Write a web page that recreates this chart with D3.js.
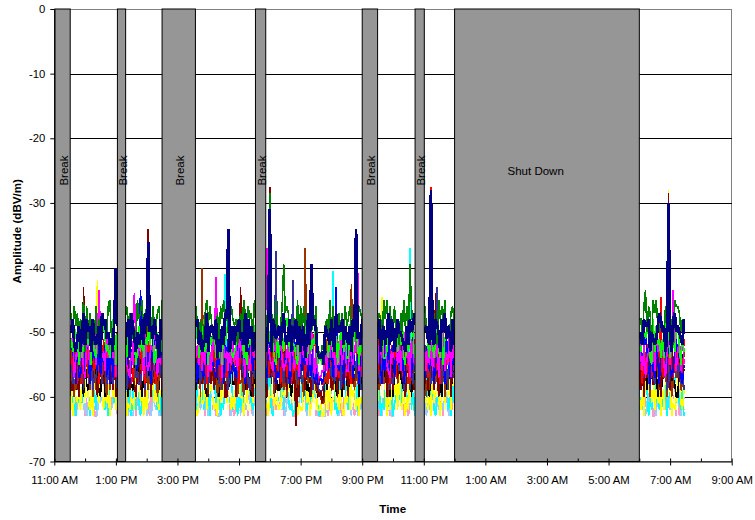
<!DOCTYPE html>
<html>
<head>
<meta charset="utf-8">
<script src="https://cdn.jsdelivr.net/npm/d3@7"></script>
<style>
  body { margin: 0; background: #fff; }
  svg { font-family: "Liberation Sans", Arial, sans-serif; display: block; }
</style>
</head>
<body>
<div id="chart"></div>
<script>
// ─── AXES ─────────────────────────────────────────────
const axisStart = "11:00 AM", axisEnd = "9:00 AM";   // runs into the next morning
const yTicks = [0, -10, -20, -30, -40, -50, -60, -70];
const gridLevels = [-10, -20, -30, -40, -50, -60];

// ─── BREAKS / SHUT DOWN (no measurements) ─────────────
const breakStart = ["11:01 AM", "1:03 PM", "2:30 PM", "5:32 PM", "9:00 PM", "10:43 PM", "12:00 AM"];
const breakEnd   = ["11:31 AM", "1:19 PM", "3:35 PM", "5:52 PM", "9:30 PM", "11:01 PM", "6:00 AM"];
const breakLabel = ["Break", "Break", "Break", "Break", "Break", "Break", "Shut Down"];
const breakLabelTime = ["11:16 AM", "1:11 PM", "3:02 PM", "5:42 PM", "9:15 PM", "10:52 PM", "2:38 AM"];
const breakLabelLevel = -25;

// ─── MEASUREMENTS ─────────────────────────────────────
// one reading every 3 minutes, each measuring window starts at segmentStart
const sampleMinutes = 3;
const segmentStart = ["11:21 AM", "1:18 PM", "3:36 PM", "5:48 PM", "9:30 PM", "11:02 PM", "6:00 AM"];

const seriesName  = ["rose", "paleBlue", "lightYellow", "cyan", "yellow", "white", "black", "brown",
                     "darkRed", "indigo", "red", "blue", "magenta", "lime", "green", "navy"];
const seriesColor = ["#FF99CC", "#99CCFF", "#FFFF99", "#00FFFF", "#FFFF00", "#FFFFFF", "#000000", "#993300",
                     "#800000", "#333399", "#FF0000", "#0000FF", "#FF00FF", "#00FF00", "#008000", "#000080"];
// readings are written as dB above each series' floor (one digit per reading)
const seriesFloor = [-63, -63, -62, -63, -63, -61, -61, -61, -61, -60, -59, -59, -58, -56, -54, -56];
const seriesReadings = [
  // rose
  "13052 40314 21503 52140 03625 31407 14250 | 60213 25031 42156 10342 53120 | 24613 30524 61203 12435 45021 02354 34160 51032 | 13052 40314 21503 52140 03625 31407 14250 10000 25031 42156 10342 53120 24613 | 30524 61203 12435 45021 02354 | 34160 51032 13052 40314 | 21503 52140 03625 31407 14250 60213",
  // paleBlue
  "42156 10342 53120 24613 30524 61203 12435 | 45021 02354 34160 51032 13052 | 40314 21503 52140 03625 31407 14250 60213 25031 | 42156 10342 53120 24613 30524 61203 12435 01000 02354 34160 51032 13052 40314 | 21503 52140 03625 31407 14250 | 60213 25031 42156 10342 | 53120 24613 30524 61203 12435 45021",
  // lightYellow
  "31407 14250 60213 25031 42156 10342 53120 | 24613 30524 61203 12435 45021 | 02354 34160 51032 13052 40314 21503 52140 03625 | 31407 14250 60213 25031 42156 10342 53120 10100 30524 61203 12435 45021 02354 | 34160 51032 13052 40314 21503 | 52140 03625 31407 14250 | 60213 25031 42156 10342 53120 24613",
  // cyan
  "29174 13052 62839 40314 17463 21503 85291 | 52140 38162 03625 74938 31407 | 15826 14250 93714 60213 46281 25031 81539 42156 | 27946 10342 53817 53120 19648 24613 72453 20100 36195 61203 84627 12435 51938 | 45021 68214 02354 25873 34160 | 97361 51032 43728 13052 | 16594 40314 82417 21503 39562 52140",
  // yellow
  "64183 03625 18739 31407 57294 14250 73615 | 60213 21847 25031 95372 42156 | 10342 29174 53120 62839 24613 17463 30524 85291 | 61203 38162 12435 74938 45021 15826 02354 11200 34160 46281 51032 81539 13052 | 27946 40314 53817 21503 19648 | 52140 72453 03625 36195 | 31407 84627 14250 51938 60213 68214",
  // white
  "36152 74318 25463 51736 42581 63247 18354 | 57263 24815 63172 38546 71425 | 45318 26753 61482 37265 54183 28647 73152 46371 | 35284 62415 18763 54327 26158 73542 41865 21100 63254 17438 52176 38624 45713 | 64215 31587 27346 58163 42751 | 16473 53268 74152 28436 | 61354 37825 45162 23748 56213 74365",
  // black
  "52417 38265 64173 27548 45216 71384 36752 | 48163 25738 61425 37546 54281 | 26375 73148 45862 18536 62473 34158 57264 41735 | 73285 46152 28647 65314 31758 57423 14865 12110 52647 38215 61473 24386 47152 | 36574 62318 15846 43275 58163 | 27416 64385 31752 56248 | 43617 28354 65142 37586 52431 16478",
  // brown
  "47293 81526 35748 62915 29364 74182 58639 | 16847 93254 48617 25793 71468 | 63915 38427 84261 52739 27586 69143 41875 85362 | 32758 76184 59426 18637 64295 41863 87542 32100 53846 26917 75384 48162 63579 | 92463 47185 28736 65914 34852 | 71529 56384 43817 89265 | 25748 68193 37526 84617 51394 79238",
  // darkRed
  "58362 27941 73158 46829 81475 35697 62814 | 79426 43158 26739 58184 34672 | 87453 52918 38264 74591 16387 61745 45829 93176 | 64195 38527 72846 25963 57318 86274 41653 21201 68492 35718 74265 19834 56387 | 43869 71526 26947 84315 58632 | 37284 62951 85473 49168 | 72516 48293 36851 65927 29468 84375",
  // indigo
  "63528 27364 48157 74613 35872 56238 82461 | 41785 68342 25916 73254 47638 | 35627 82415 54738 26183 71564 48327 63952 17436 | 58243 34716 76528 42351 67284 23675 85134 21112 46873 72568 18245 54386 37612 | 73258 46813 25764 68137 51426 | 84362 37518 62475 15843 | 46275 73184 28536 55712 64358 37261",
  // red
  "74286 38517 61948 25863 47192 83654 36279 | 58341 26795 73518 49263 15874 | 62957 47183 35826 81642 28375 54918 76234 43861 | 37524 85263 51748 26913 64387 48256 73695 12211 58147 34862 76523 42189 65734 | 28463 63917 47285 85136 31758 | 56298 42736 18564 73485 | 64173 38526 57841 25964 83257 46318",
  // blue
  "38657 64182 25937 71465 53826 47291 82563 | 26415 75836 48263 63197 34758 | 51783 27469 84325 45817 68234 32958 57146 76382 | 43268 68513 26874 54139 85726 37462 62815 11212 74358 25643 58197 43726 66184 | 57318 34926 72564 48137 63295 | 25837 81462 46718 63245 | 38459 64183 27516 75839 42368 58214",
  // magenta
  "25837 71463 48216 63759 36184 52947 74618 | 63215 38746 57183 24658 71534 | 46372 63815 28547 75164 52638 37285 64173 28546 | 57164 32857 76423 48275 25816 64538 38715 21122 62847 45173 73562 28436 57281 | 36548 73215 48637 25864 61753 | 52738 27461 64825 38174 | 74261 45837 28564 63158 36472 57283",
  // lime
  "63825 37561 82437 46183 27659 75342 58716 | 42768 65137 38254 74681 26453 | 57243 83516 46728 25174 68532 34867 72415 45368 | 38746 64215 27538 85364 42176 56823 73548 12211 48265 36714 65372 27836 84153 | 56382 23647 74835 48216 35762 | 67428 42583 28156 75364 | 43675 66218 37452 52847 28536 74163",
  // green
  "74296 48573 65918 37452 82647 56389 43765 | 68574 35296 79468 46385 57839 | 85362 47958 63427 38695 74586 56247 49738 67395 | 58473 76294 45867 87356 63928 48572 74658 11021 56394 83657 47285 68349 35876 | 47639 69485 58362 74958 36847 | 85367 57429 68594 43786 | 66385 48729 79546 53867 46298 87465",
  // navy
  "59476 84357 36948 67385 45729 78564 53867 | 46829 75364 58497 36758 64285 | 78463 45937 67582 53749 86357 47685 64938 57364 | 65384 38756 74695 46837 58473 67259 45786 32231 76548 53967 68475 47386 75648 | 58367 46948 73586 65437 48679 | 67548 54876 38695 76384 | 56487 78365 45798 67354 53896 76548"
];

// single readings well away from the band (spikes / dips)
const spikeSeries = ["darkRed", "yellow", "magenta", "navy", "magenta", "blue", "darkRed", "navy",
  "brown", "magenta", "cyan", "navy", "darkRed", "magenta", "darkRed", "darkRed", "green", "navy",
  "indigo", "green", "indigo", "darkRed", "brown", "navy", "cyan", "blue", "brown", "navy", "magenta",
  "yellow", "cyan", "green", "red", "navy", "darkRed", "indigo", "green", "red", "yellow", "darkRed",
  "navy", "magenta"];
const spikeTime = ["11:57 AM", "12:24 PM", "12:27 PM", "1:00 PM", "1:36 PM", "1:48 PM", "2:03 PM", "2:03 PM",
  "3:48 PM", "4:15 PM", "4:33 PM", "4:39 PM", "5:03 PM", "5:54 PM", "5:57 PM", "6:00 PM", "6:00 PM", "6:00 PM",
  "6:12 PM", "6:27 PM", "6:45 PM", "6:51 PM", "7:09 PM", "7:21 PM", "8:03 PM", "8:09 PM", "8:39 PM", "8:48 PM",
  "8:51 PM", "9:39 PM", "10:33 PM", "10:33 PM", "11:14 PM", "11:14 PM", "11:23 PM", "11:26 PM", "6:12 AM",
  "6:42 AM", "6:57 AM", "6:57 AM", "6:57 AM", "7:06 AM"];
const spikeValue = [-43, -42, -43.5, -40, -44, -43.5, -34, -36,
  -40, -41.5, -41, -34, -43, -37, -38, -27.5, -28.5, -31,
  -37.5, -39.5, -42, -64.5, -37, -39.5, -40.5, -43, -42.5, -34,
  -39.5, -44.5, -37, -39.5, -27.5, -28, -44, -43, -43.5,
  -44.5, -28, -28.5, -30, -43.5];

// ─── HELPERS ──────────────────────────────────────────
function clock(s) {
  const [hm, ap] = s.split(" ");
  let [h, m] = hm.split(":").map(Number);
  h = h % 12 + (ap === "PM" ? 12 : 0);
  return new Date(2000, 0, h < 11 ? 2 : 1, h, m);   // early hours belong to the next day
}

const series = seriesReadings.map((txt, i) => txt.split("|").map((seg, j) => {
  const t0 = clock(segmentStart[j]);
  return seg.replace(/\s/g, "").split("").map((c, k) => ({
    t: d3.timeMinute.offset(t0, k * sampleMinutes),
    v: seriesFloor[i] + (+c)
  }));
}));

spikeSeries.forEach((name, n) => {
  const t = clock(spikeTime[n]);
  series[seriesName.indexOf(name)].forEach((seg, j) => {
    const k = Math.round((t - clock(segmentStart[j])) / 60000 / sampleMinutes);
    if (k >= 0 && k < seg.length) seg[k].v = spikeValue[n];
  });
});

// ─── SVG ──────────────────────────────────────────────
const width = 755, height = 520;
const x0 = 54.3, x1 = 731.7, yTop = 9, yBottom = 461.5;

const svg = d3.select("#chart").append("svg")
    .attr("width", width)
    .attr("height", height);

const x = d3.scaleTime()
    .domain([clock(axisStart), clock(axisEnd)])
    .range([x0, x1]);
const y = d3.scaleLinear()
    .domain([-70, 0])
    .range([yBottom, yTop]);

// plot border + gridlines
svg.append("rect")
    .attr("x", x0).attr("y", y(0))
    .attr("width", x1 - x0).attr("height", y(-70) - y(0))
    .attr("fill", "#fff").attr("stroke", "#808080")
    .attr("shape-rendering", "crispEdges");

svg.append("g").selectAll("line")
    .data(gridLevels)
    .enter().append("line")
    .attr("x1", x0).attr("x2", x1)
    .attr("y1", d => Math.round(y(d)) + 0.5).attr("y2", d => Math.round(y(d)) + 0.5)
    .attr("stroke", "#000").attr("stroke-width", 1)
    .attr("shape-rendering", "crispEdges");

// measurement traces
const line = d3.line().x(d => x(d.t)).y(d => y(d.v));
const traces = svg.append("g");
series.forEach((segs, i) => {
  traces.selectAll(null)
      .data(segs)
      .enter().append("path")
      .attr("d", line)
      .attr("fill", "none")
      .attr("stroke", seriesColor[i])
      .attr("stroke-width", seriesName[i] === "navy" ? 2.8 : 1.6)
      .attr("stroke-linejoin", "miter")
      .attr("stroke-miterlimit", 2)
      .attr("shape-rendering", "crispEdges");
});

// break bars
const bars = svg.append("g");
bars.selectAll("rect")
    .data(breakStart)
    .enter().append("rect")
    .attr("x", (d, i) => x(clock(d)))
    .attr("y", y(0))
    .attr("width", (d, i) => x(clock(breakEnd[i])) - x(clock(d)))
    .attr("height", y(-70) - y(0))
    .attr("fill", "#969696")
    .attr("stroke", "#000")
    .attr("stroke-width", 1);

bars.selectAll("text")
    .data(breakLabel)
    .enter().append("text")
    .attr("font-size", 11.5)
    .attr("fill", "#000")
    .attr("text-anchor", "middle")
    .attr("transform", (d, i) => {
      const lx = x(clock(breakLabelTime[i])), ly = y(breakLabelLevel);
      return d === "Break" ? `translate(${lx + 5.5},${ly}) rotate(-90)` : `translate(${lx},${ly + 4})`;
    })
    .text(d => d);

// ─── X AXIS ───────────────────────────────────────────
const majorTicks = d3.range(0, 23, 2).map(h => d3.timeHour.offset(clock(axisStart), h));
const minorTicks = d3.range(1, 22, 2).map(h => d3.timeHour.offset(clock(axisStart), h));

const xAxis = svg.append("g")
    .attr("transform", `translate(0,${yBottom})`)
    .call(d3.axisBottom(x)
      .tickValues(majorTicks)
      .tickFormat(d3.timeFormat("%-I:%M %p"))
      .tickSize(4).tickSizeOuter(0).tickPadding(10));
xAxis.selectAll(".tick line").attr("y1", -3);
xAxis.selectAll("text").attr("font-size", 11.3).attr("font-family", "Liberation Sans, Arial, sans-serif");

svg.append("g")
    .attr("transform", `translate(0,${yBottom})`)
    .call(d3.axisBottom(x).tickValues(minorTicks).tickFormat("").tickSize(-3).tickSizeOuter(0))
    .select(".domain").remove();

// ─── Y AXIS ───────────────────────────────────────────
const yAxis = svg.append("g")
    .attr("transform", `translate(${x0},0)`)
    .call(d3.axisLeft(y)
      .tickValues(yTicks)
      .tickFormat(d => String(d))
      .tickSize(4).tickSizeOuter(0).tickPadding(5));
yAxis.selectAll("text").attr("font-size", 11.3).attr("font-family", "Liberation Sans, Arial, sans-serif");

// titles
svg.append("text")
    .attr("transform", `translate(20.5,${(yTop + yBottom) / 2 - 4}) rotate(-90)`)
    .attr("text-anchor", "middle")
    .attr("font-size", 11.6)
    .attr("font-weight", "bold")
    .text("Amplitude (dBV/m)");

svg.append("text")
    .attr("x", 392.7).attr("y", 512.7)
    .attr("text-anchor", "middle")
    .attr("font-size", 11.6)
    .attr("font-weight", "bold")
    .text("Time");
</script>
</body>
</html>
